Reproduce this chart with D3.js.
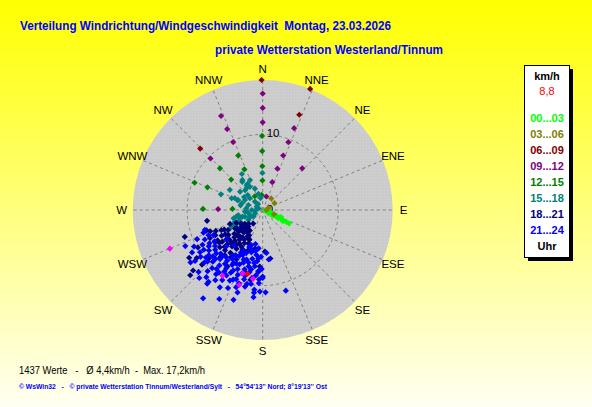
<!DOCTYPE html>
<html>
<head>
<meta charset="utf-8">
<script src="https://cdn.jsdelivr.net/npm/d3@7"></script>
<style>
  html, body { margin: 0; padding: 0; }
  svg { display: block; }
  text { font-family: "Liberation Sans", Arial, sans-serif; white-space: pre; }
</style>
</head>
<body>
<svg width="592" height="407"></svg>
<script>
// Windrichtungen und Stunden-Klassen
const directions = ["N","NNE","NE","ENE","E","ESE","SE","SSE","S","SSW","SW","WSW","W","WNW","NW","NNW"];
const legendRanges = ["00...03","03...06","06...09","09...12","12...15","15...18","18...21","21...24"];
const hourColors = ["#00ff00","#808000","#800000","#800080","#008000","#008080","#000080","#0000ff"];
const ringValues = [0, 10];
const maxSpeed = 17.2;
const currentSpeed = "8,8";

// Messwerte [Richtung in Grad, Geschwindigkeit km/h]
const h00 = [[100,0.5],[106,0.3],[110,0.6],[112,0.9],[109,1.1],[112,1.3],[120,1.5],[113,1.6],[115,1.8],
  [113,2.0],[118,2.3],[114,2.4],[111,2.6],[116,2.8],[119,3.0],[117,3.1],[117,3.5],[117,3.9]];
const h03 = [[36,1.9],[60,1.8],[110,1.6],[70,0.8],[90,0.5]];
const h06 = [[359.5,17.2],[21.4,17.2],[21,13.5],[314.5,11.6]];
const h09 = [[0,15.4],[0,13.5],[0,11.6],[21,11.6],[20.7,9.6],[20.6,7.7],[19.6,5.8],[19,3.9],[15,1.85],
  [43.5,7.6],[336.1,13.6],[336.3,11.7],[336.5,9.8],[314.6,9.7],[271,5.9]];
const h12 = [[359.5,9.8],[359.5,7.8],[359.5,5.8],[359.5,3.9],[356,2.0],[330,2.1],[335.8,7.9],[335.7,5.9],
  [314.3,7.9],[314,5.8],[291.8,9.7],[292.3,7.9],[271,7.9],[272,4.0]];
const h15 = [[359.5,4.9],[337,4.3],[324,4.6],[327,3.9],[318.5,3.5],[309,3.85],[301.5,5.1],[290.6,5.9],
  [293,4.0],[292,3.5],[299.5,2.7],[312.6,2.3],[317,1.5],[289,2.0],[299,0.9],[246.5,1.1],[248.5,1.8],
  [249,2.5],[250,3.2],[247,4.0],[244,4.55],[240.7,4.95],[237.6,3.3],[235,2.3],[234.5,1.5],[264.6,2.35],
  [258,3.3],[254,4.0],[270,1.45],[290,0.6],[330,5.5],[326,4.8],[330,4.0],[331,3.5],[323.6,3.6],
  [290.7,4.4],[291.5,3.6],[287.7,2.9],[252,2.8],[256,3.6],[242,3.8],[238,4.3],[245,3.5],[260,2.0],
  [240,2.0],[275,2.2],[282,3.0],[305,3.0],[315,2.8],[340,3.0],[345,2.2],[350,1.6],[320,1.0],[265,1.0],[230,3.0]];
const h18 = [[221,2.9],[228,4.3],[215,2.2],[225,3.3],[232,3.6],[220,3.9],[236,4.4],[230,4.9],[224,4.7],
  [216,4.5],[210,4.0],[240,5.3],[234,5.6],[228,5.9],[222,5.5],[215,5.4],[209,5.0],[203,4.8],[244,6.1],
  [238,6.4],[232,6.8],[226,6.5],[220,6.3],[214,6.2],[207,5.9],[200,5.7],[242,7.1],[236,7.2],[229,7.5],
  [223,7.3],[217,7.1],[211,7.0],[246,6.8],[250,7.9],[242,7.9],[218,3.4],[212,3.2],
  [226,2.6],[232,3.0],[238,3.4],[244,3.9],[247,4.7],[228,3.8],[214,3.6],[208,3.8],[204,4.3],[220,4.6],
  [234,4.2],[226,5.2],[218,5.0],[212,4.6],[243,5.7],[237,5.9],[231,6.2],[223,6.0],[217,5.8],[210,5.6],
  [205,6.4],[233,7.2],[226,7.0],[220,7.8],[214,7.6],[208,7.4],[222,8.4],[212,8.8],
  [259,7.5],[251,10.9],[240,9.9],[228,12.9],[229,12.2],[234,10.8],[228,10.8],[228,9.6],[236,7.6],
  [248,7.5],[237,11.6],[177,5.5],[171,6.5],[183,7.5],[196,8.5],[190,9.4],[184,8.2],[191,5.2],[207,4.2]];
const h21 = [[200,5.2],[195,5.8],[188,6.0],[182,6.2],[205,5.9],
  [192,4.6],[198,4.9],[186,5.1],[190,5.5],[196,5.4],
  [201,6.1],[207,6.3],[219,6.0],[231,6.1],[185,6.4],
  [189,7.1],[195,7.2],[201,7.0],[207,6.8],[213,7.2],[225,6.8],[237,7.6],[243,7.3],
  [184,8.1],[191,8.0],[197,8.2],[203,7.8],[209,8.0],[215,8.2],[221,8.1],[227,8.4],[233,7.9],[236,8.6],
  [183,9.2],[189,9.1],[195,9.0],[201,9.2],[206,8.9],[212,9.1],[218,9.3],[224,9.0],[230,9.3],[236,9.4],
  [192,10.0],[198,10.2],[203,10.0],[209,9.9],[215,10.1],[221,10.2],[227,10.0],[233,10.3],
  [186,6.8],[192,6.6],[198,6.9],[204,6.5],[210,7.0],[245,7.9],
  [181,7.8],[188,7.5],[194,7.7],[200,7.4],[206,7.9],[212,7.6],[218,7.9],[224,8.0],[230,8.2],[238,8.3],[243,8.6],[249,8.4],
  [180,8.8],[186,8.7],[192,8.4],[198,8.8],[203,8.5],[209,8.3],[215,8.7],[221,8.6],[227,9.0],[233,8.9],[240,9.2],[246,9.5],
  [183,9.7],[189,9.9],[195,9.5],[201,9.8],[207,9.3],[212,9.6],[218,9.9],[224,9.5],[230,9.8],[236,10.0],[242,10.3],
  [186,10.6],[193,10.4],[199,10.8],[205,10.3],[210,10.7],[216,10.5],[222,10.9],[228,10.4],[233,11.2],[239,10.9],
  [197,11.4],[204,11.3],[209,11.7],[214,11.2],[220,11.6],[226,11.8],[223,12.3],[217,12.2],
  [214,14.1],[206,13.1],[217,11.9],[186,11.6],[186,11.0],[182,10.8],[178,10.9],[164,11.1],[180,9.0],
  [175,5.7],[173,6.6],[234,11.8],[245,11.3],[251,8.1],[198,12.5]];
const latest = [[247.4,13.3],[211.4,10.2],[197.4,10.4],[188,9.2],[197.5,8.8]];
const current = [[193.4,8.7]];

const series = [h00, h03, h06, h09, h12, h15, h18, h21];

const svg = d3.select("svg");
const cx = 262.7, cy = 210, R = 130;
const rScale = d3.scaleLinear().domain([0, maxSpeed]).range([0, R]);
const rad = d => d * Math.PI / 180;

// Hintergrund
const defs = svg.append("defs");
const grad = defs.append("linearGradient").attr("id", "bg").attr("x1", 0).attr("y1", 0).attr("x2", 0).attr("y2", 1);
grad.append("stop").attr("offset", "0%").attr("stop-color", "#ffff00");
grad.append("stop").attr("offset", "100%").attr("stop-color", "#fffff2");
const pat = defs.append("pattern").attr("id", "dots").attr("width", 3).attr("height", 3).attr("patternUnits", "userSpaceOnUse");
pat.append("rect").attr("width", 3).attr("height", 3).attr("fill", "#cbcbcb");
pat.append("rect").attr("x", 1).attr("y", 1).attr("width", 1).attr("height", 1).attr("fill", "#d6d6d6");

svg.append("rect").attr("width", 592).attr("height", 407).attr("fill", "url(#bg)");

// Titel
svg.append("text").attr("x", 20).attr("y", 29.5).attr("fill", "#0000ff")
  .attr("font-size", "12px").attr("font-weight", "bold")
  .attr("textLength", 371).attr("lengthAdjust", "spacingAndGlyphs")
  .text("Verteilung Windrichtung/Windgeschwindigkeit  Montag, 23.03.2026");
svg.append("text").attr("x", 215).attr("y", 54).attr("fill", "#0000ff")
  .attr("font-size", "12px").attr("font-weight", "bold")
  .attr("textLength", 228).attr("lengthAdjust", "spacingAndGlyphs")
  .text("private Wetterstation Westerland/Tinnum");

// Polar-Diagramm
const g = svg.append("g").attr("transform", `translate(${cx},${cy})`);
g.append("circle").attr("r", R).attr("fill", "url(#dots)");

directions.forEach((d, i) => {
  const a = rad(i * 22.5);
  const [x, y] = d3.pointRadial(a, R);
  g.append("line").attr("x1", 0).attr("y1", 0).attr("x2", x).attr("y2", y)
    .attr("stroke", "#808080").attr("stroke-dasharray", "3,3");
  const [lx, ly] = d3.pointRadial(a, 141);
  g.append("text").attr("x", lx).attr("y", ly).attr("dy", "0.36em")
    .attr("text-anchor", "middle").attr("font-size", "11.5px").attr("fill", "#000")
    .text(d);
});

ringValues.filter(v => v > 0).forEach(v => {
  g.append("circle").attr("r", rScale(v)).attr("fill", "none")
    .attr("stroke", "#808080").attr("stroke-dasharray", "3,3");
});
ringValues.forEach(v => {
  g.append("text").attr("x", 4).attr("y", -rScale(v) + 3)
    .attr("font-size", "11.5px").attr("fill", "#000").text(v);
});

// Punkte
const diamond = "M0,-3.1L3.1,0L0,3.1L-3.1,0Z";
function drawPoints(data, color) {
  g.append("g").selectAll("path").data(data).join("path")
    .attr("d", diamond)
    .attr("transform", d => {
      const [x, y] = d3.pointRadial(rad(d[0]), rScale(d[1]));
      return `translate(${x},${y})`;
    })
    .attr("fill", color);
}
series.forEach((s, i) => drawPoints(s, hourColors[i]));
drawPoints(latest, "#ff00ff");
drawPoints(current, "#ff0000");

// Legende
const lx0 = 524.5, ly0 = 65.5, lw = 45, lh = 192;
svg.append("rect").attr("x", lx0 + 3.5).attr("y", ly0 + 3.5).attr("width", lw).attr("height", lh).attr("fill", "#000");
svg.append("rect").attr("x", lx0).attr("y", ly0).attr("width", lw).attr("height", lh)
  .attr("fill", "#fff").attr("stroke", "#000");
const lcx = lx0 + lw / 2;
svg.append("text").attr("x", lcx).attr("y", 79.5).attr("text-anchor", "middle")
  .attr("font-size", "11px").attr("font-weight", "bold").text("km/h");
svg.append("text").attr("x", lcx).attr("y", 95).attr("text-anchor", "middle")
  .attr("font-size", "11px").attr("fill", "#ff0000").text(currentSpeed);
legendRanges.forEach((t, i) => {
  svg.append("text").attr("x", lcx).attr("y", 121.7 + i * 16).attr("text-anchor", "middle")
    .attr("font-size", "11px").attr("font-weight", "bold").attr("fill", hourColors[i]).text(t);
});
svg.append("text").attr("x", lcx).attr("y", 250).attr("text-anchor", "middle")
  .attr("font-size", "11px").attr("font-weight", "bold").text("Uhr");

// Fußzeilen
svg.append("text").attr("x", 19).attr("y", 374).attr("font-size", "11.5px").attr("fill", "#000")
  .attr("textLength", 186).attr("lengthAdjust", "spacingAndGlyphs")
  .text("1437 Werte   -   Ø 4,4km/h  -  Max. 17,2km/h");
svg.append("text").attr("x", 19).attr("y", 389).attr("font-size", "8px").attr("font-weight", "bold")
  .attr("fill", "#0000ff")
  .attr("textLength", 308).attr("lengthAdjust", "spacingAndGlyphs")
  .text("© WsWin32   -   © private Wetterstation Tinnum/Westerland/Sylt   -   54°54'13'' Nord; 8°19'13'' Ost");
</script>
</body>
</html>
